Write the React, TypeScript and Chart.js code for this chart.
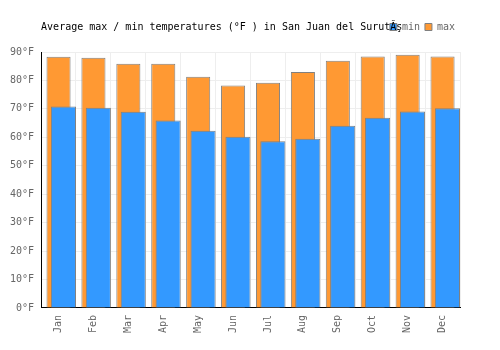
import React, { useEffect, useRef } from "react";
import { Chart, registerables } from "chart.js";

Chart.register(...registerables);

const months = ["Jan", "Feb", "Mar", "Apr", "May", "Jun", "Jul", "Aug", "Sep", "Oct", "Nov", "Dec"];
const maxTemps = [88.3, 88.0, 85.9, 85.9, 81.3, 78.2, 79.2, 83.0, 86.9, 88.4, 89.0, 88.4];
const minTemps = [70.8, 70.4, 69.0, 65.9, 62.3, 60.2, 58.6, 59.5, 64.1, 66.9, 69.1, 70.2];
const yTicks = [0, 10, 20, 30, 40, 50, 60, 70, 80, 90];
const titleText = "Average max / min temperatures (°F ) in San Juan del SurutĂş";

const MONO = "'DejaVu Sans Mono', monospace";

export default function App() {
  const ref = useRef<HTMLCanvasElement | null>(null);

  useEffect(() => {
    document.body.style.margin = "0";
    if (!ref.current) return;
    const shift = 0.14;
    const chart = new Chart(ref.current, {
      type: "bar",
      data: {
        labels: months,
        datasets: [
          {
            label: "min",
            data: minTemps.map((v, i) => ({ x: i, y: v })),
            xAxisID: "x2",
            grouped: false,
            backgroundColor: "#3399ff",
            borderColor: "#808080",
            borderWidth: 1,
            categoryPercentage: 1,
            barPercentage: 0.72,
          },
          {
            label: "max",
            data: maxTemps,
            xAxisID: "x",
            grouped: false,
            backgroundColor: "#ff9933",
            borderColor: "#808080",
            borderWidth: 1,
            categoryPercentage: 1,
            barPercentage: 0.69,
          },
        ],
      },
      options: {
        responsive: false,
        animation: false,
        layout: { padding: { top: 17, left: 3, right: 40, bottom: 10 } },
        plugins: {
          tooltip: { enabled: false },
          legend: {
            display: true,
            position: "top",
            align: "end",
            fullSize: false,
            weight: 3000,
            labels: {
              boxWidth: 7,
              boxHeight: 7,
              padding: 5,
              color: "#666",
              font: { family: MONO, size: 10 },
            },
          },
          title: {
            display: true,
            text: titleText,
            align: "start",
            fullSize: false,
            weight: 2000,
            color: "#000",
            padding: { top: -21, bottom: 19 },
            font: { family: MONO, size: 10, weight: "normal" },
          },
        },
        scales: {
          x: {
            type: "category",
            offset: true,
            grid: { display: true, color: "#eeeeee", drawTicks: false, offset: true },
            border: { display: true, color: "#000", width: 1 },
            ticks: {
              color: "#666",
              font: { family: MONO, size: 10 },
              padding: 7,
              minRotation: 90,
              maxRotation: 90,
              autoSkip: false,
            },
          },
          x2: {
            type: "linear",
            display: false,
            offset: false,
            min: -0.5 - shift,
            max: 11.5 - shift,
            grid: { display: false, offset: false },
            ticks: { stepSize: 1, includeBounds: false },
          },
          y: {
            type: "linear",
            min: 0,
            max: 90,
            grid: { color: "#eeeeee", drawTicks: false },
            border: { display: true, color: "#000", width: 1 },
            afterBuildTicks: (scale: any) => {
              scale.ticks = yTicks.map((v) => ({ value: v }));
            },
            ticks: {
              color: "#666",
              font: { family: MONO, size: 10 },
              padding: 7,
              callback: (v: any) => `${v}°F`,
            },
          },
        },
      },
    } as any);
    return () => chart.destroy();
  }, []);

  return (
    <div style={{ width: 500, height: 350 }}>
      <canvas ref={ref} width={500} height={350} />
    </div>
  );
}
